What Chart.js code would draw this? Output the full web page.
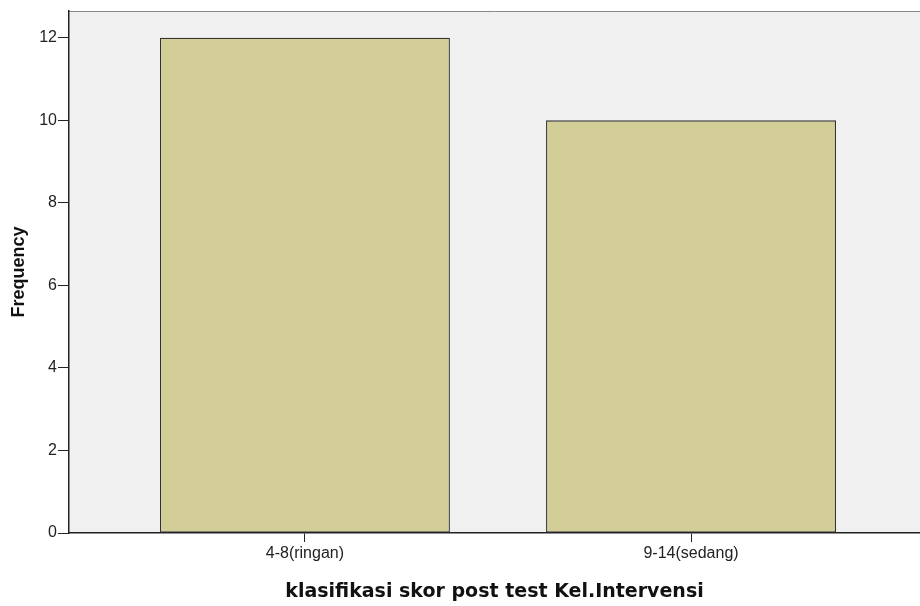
<!DOCTYPE html>
<html>
<head>
<meta charset="utf-8">
<script src="https://cdn.jsdelivr.net/npm/chart.js@4"></script>
<style>
  html, body { margin: 0; padding: 0; background: #fff; }
  #wrap { width: 920px; height: 606px; }
</style>
</head>
<body>
<div id="wrap"><canvas id="freqChart" width="920" height="606"></canvas></div>
<script>
// Datos del gráfico
const categories = ['4-8(ringan)', '9-14(sedang)'];
const frequencies = [12, 10];
const yTicks = [0, 2, 4, 6, 8, 10, 12];

// Fondo gris del área del gráfico
const plotBackground = {
    id: 'plotBackground',
    beforeDraw(chart) {
        const { ctx, chartArea: a } = chart;
        ctx.save();
        ctx.fillStyle = '#F0F0F0';
        ctx.fillRect(a.left, a.top, a.right - a.left, a.bottom - a.top);
        ctx.strokeStyle = '#8A8A8A';
        ctx.lineWidth = 1;
        ctx.beginPath();
        ctx.moveTo(a.left, a.top + 0.5);
        ctx.lineTo(a.right, a.top + 0.5);
        ctx.stroke();
        ctx.restore();
    }
};

const ctx = document.getElementById('freqChart').getContext('2d');
const freqChart = new Chart(ctx, {
    type: 'bar',
    data: {
        datasets: [{
            label: 'Frequency',
            data: categories.map((c, i) => ({ x: i + 1, y: frequencies[i] })),
            backgroundColor: '#D3CE97',
            borderColor: '#333333',
            borderWidth: 1.3,
            borderSkipped: false,
            categoryPercentage: 1,
            barPercentage: 0.751
        }]
    },
    options: {
        responsive: false,
        animation: false,
        layout: { padding: { top: 11, right: 0, left: 0, bottom: 0 } },
        plugins: {
            legend: { display: false },
            tooltip: { enabled: false }
        },
        scales: {
            x: {
                type: 'linear',
                min: 0.389,
                max: 2.593,
                offset: false,
                afterBuildTicks: (scale) => { scale.ticks = categories.map((c, i) => ({ value: i + 1 })); },
                afterFit: (scale) => { scale.height = 73; },
                grid: { drawOnChartArea: false, offset: false, tickLength: 9, color: '#222' },
                border: { color: '#222', width: 1.5 },
                ticks: {
                    color: '#222',
                    padding: 2,
                    font: { family: 'Liberation Sans', size: 16 },
                    callback: (v) => categories[v - 1]
                },
                title: {
                    display: true,
                    text: 'klasifikasi skor post test Kel.Intervensi',
                    color: '#111',
                    padding: { top: 0, bottom: 3 },
                    font: { family: 'DejaVu Sans', size: 19, weight: 'bold' }
                }
            },
            y: {
                min: 0,
                max: 12.65,
                afterBuildTicks: (scale) => { scale.ticks = yTicks.map(v => ({ value: v })); },
                afterFit: (scale) => { scale.width = 69; },
                grid: { drawOnChartArea: false, tickLength: 11, color: '#222' },
                border: { color: '#222', width: 1.5 },
                ticks: {
                    color: '#222',
                    padding: 1,
                    font: { family: 'Liberation Sans', size: 16 }
                },
                title: {
                    display: true,
                    text: 'Frequency',
                    color: '#111',
                    padding: { top: 8, bottom: 0 },
                    font: { family: 'Liberation Sans', size: 18, weight: 'bold' }
                }
            }
        }
    },
    plugins: [plotBackground]
});
</script>
</body>
</html>
